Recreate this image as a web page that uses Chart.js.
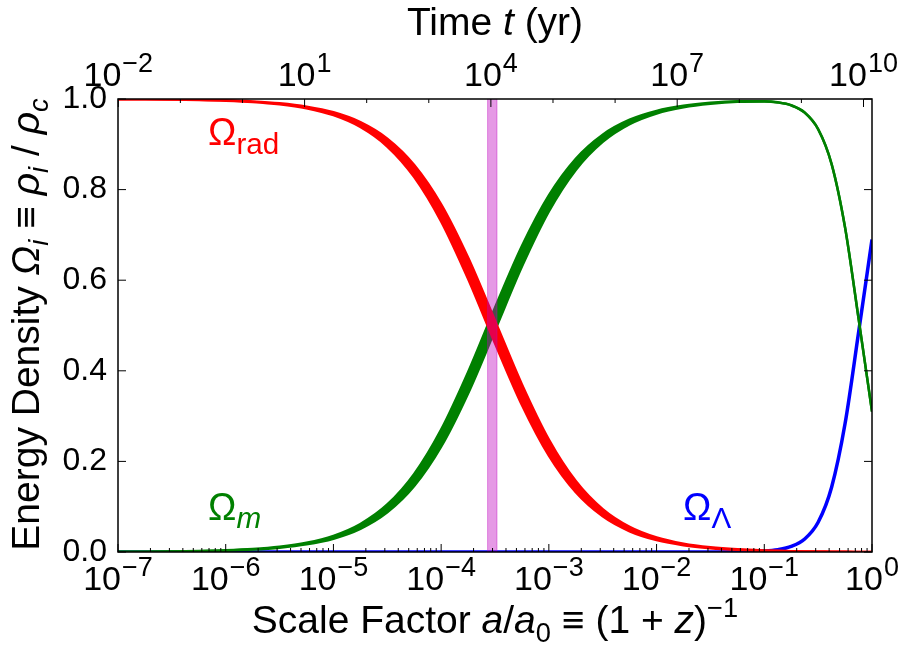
<!DOCTYPE html>
<html>
<head>
<meta charset="utf-8">
<script src="https://cdn.jsdelivr.net/npm/chart.js@4.4.1/dist/chart.umd.min.js"></script>
<style>
  html, body { margin: 0; padding: 0; background: #fff; }
  #wrap { width: 901px; height: 648px; }
</style>
</head>
<body>
<div id="wrap"><canvas id="densityChart" width="901" height="648"></canvas></div>
<script>
// scale factor grid, as powers of ten
const logA = [-7, -6.75, -6.5, -6.25, -6, -5.75, -5.5, -5.25, -5, -4.75, -4.5, -4.25, -4, -3.75, -3.5, -3.25,
  -3, -2.75, -2.5, -2.25, -2, -1.75, -1.5, -1.25, -1, -0.875, -0.75, -0.625, -0.5, -0.375, -0.25, -0.125, 0];

// radiation: lower / upper edge of the band
const radLow = [0.9996, 0.9993, 0.9988, 0.9979, 0.9963, 0.9935, 0.9884, 0.9796, 0.9643, 0.9382, 0.8952, 0.8276,
  0.7297, 0.6030, 0.4606, 0.3244, 0.2126, 0.1318, 0.0787, 0.0458, 0.0263, 0.0150, 0.0085, 0.0048, 0.0027,
  0.0020, 0.0015, 0.0011, 0.0008, 0.0005, 0.0003, 0.0002, 0.0001];
const radHigh = [0.9997, 0.9995, 0.9990, 0.9983, 0.9970, 0.9946, 0.9905, 0.9832, 0.9706, 0.9489, 0.9125, 0.8544,
  0.7675, 0.6499, 0.5106, 0.3698, 0.2481, 0.1565, 0.0945, 0.0554, 0.0319, 0.0182, 0.0103, 0.0058, 0.0033,
  0.0025, 0.0018, 0.0013, 0.0010, 0.0007, 0.0004, 0.0002, 0.0001];

// matter band
const matHigh = [0.0004, 0.0007, 0.0012, 0.0021, 0.0037, 0.0065, 0.0116, 0.0204, 0.0357, 0.0618, 0.1048, 0.1724,
  0.2703, 0.3970, 0.5394, 0.6756, 0.7874, 0.8682, 0.9213, 0.9542, 0.9737, 0.9850, 0.9915, 0.9948, 0.9951,
  0.9928, 0.9862, 0.9701, 0.9335, 0.8565, 0.7162, 0.5157, 0.3100];
const matLow = [0.0003, 0.0005, 0.0010, 0.0017, 0.0030, 0.0054, 0.0095, 0.0168, 0.0294, 0.0511, 0.0875, 0.1456,
  0.2325, 0.3501, 0.4894, 0.6302, 0.7519, 0.8435, 0.9055, 0.9446, 0.9681, 0.9818, 0.9896, 0.9938, 0.9945,
  0.9923, 0.9858, 0.9699, 0.9333, 0.8564, 0.7161, 0.5157, 0.3100];

// dark energy
const lambda = [0, 0, 0, 0, 0, 0, 0, 0, 0, 0, 0, 0, 0, 0, 0, 0, 0, 0, 0, 0, 0, 0, 0.0001, 0.0004, 0.0022,
  0.0052, 0.0123, 0.0288, 0.0657, 0.1430, 0.2835, 0.4841, 0.6899];

// matter-radiation equality window
const eqBand = [2.7e-4, 3.3e-4];

// axis ticks
const bottomDecades = [-7, -6, -5, -4, -3, -2, -1, 0];
const timeRange = [0.0099, 1.37e10];
const timeMajor = [-2, 1, 4, 7, 10];
const yTicks = [0, 0.2, 0.4, 0.6, 0.8, 1.0];

const RED = '#ff0000', GREEN = '#008000', BLUE = '#0000ff';
const FONT = '"Liberation Sans", Arial, sans-serif';

const scaleFactor = logA.map(e => Math.pow(10, e));
const pts = vals => scaleFactor.map((a, i) => ({x: a, y: vals[i]}));

// text runs with italic / sub / superscript parts
function drawRich(ctx, parts, x, y, size, align, small = 0.7) {
  let w = 0;
  const runs = parts.map(p => {
    const s = (p.sub || p.sup) ? size * small : size;
    const f = (p.it ? 'italic ' : '') + s + 'px ' + FONT;
    ctx.font = f;
    const r = {t: p.t, f, dx: w, dy: p.sub ? size * 0.22 : p.sup ? -size * 0.42 : 0};
    w += ctx.measureText(p.t).width;
    return r;
  });
  const x0 = align === 'center' ? x - w / 2 : align === 'right' ? x - w : x;
  ctx.textAlign = 'left';
  ctx.textBaseline = 'alphabetic';
  runs.forEach(r => { ctx.font = r.f; ctx.fillText(r.t, x0 + r.dx, y + r.dy); });
}

function powerLabel(ctx, exp, cx, baseline) {
  const e = exp < 0 ? '\u2212' + (-exp) : String(exp);
  ctx.font = '34px ' + FONT;
  const wb = ctx.measureText('10').width;
  ctx.font = '27px ' + FONT;
  const we = ctx.measureText(e).width;
  const x0 = cx - (wb + we + 1) / 2;
  ctx.textAlign = 'left';
  ctx.textBaseline = 'alphabetic';
  ctx.font = '34px ' + FONT;
  ctx.fillText('10', x0, baseline);
  ctx.font = '27px ' + FONT;
  ctx.fillText(e, x0 + wb + 1, baseline - 14);
}

const curveLabels = [
  {parts: [{t: '\u03A9'}, {t: 'rad', sub: true}], a: 6.85e-7, y: 0.898, color: RED},
  {parts: [{t: '\u03A9'}, {t: 'm', sub: true, it: true}], a: 6.85e-7, y: 0.0706, color: GREEN},
  {parts: [{t: '\u03A9'}, {t: '\u039B', sub: true}], a: 0.0176, y: 0.0706, color: BLUE}
];

const decor = {
  id: 'decor',
  afterDatasetsDraw(chart) {
    const {ctx, chartArea: ar, scales: {x}} = chart;
    const x1 = x.getPixelForValue(eqBand[0]);
    const x2 = x.getPixelForValue(eqBand[1]);
    ctx.save();
    ctx.fillStyle = 'rgba(191,0,191,0.4)';
    ctx.fillRect(x1, ar.top, x2 - x1, ar.bottom - ar.top);
    ctx.strokeStyle = 'rgba(191,0,191,0.4)';
    ctx.lineWidth = 1;
    ctx.beginPath();
    ctx.moveTo(x1, ar.top); ctx.lineTo(x1, ar.bottom);
    ctx.moveTo(x2, ar.top); ctx.lineTo(x2, ar.bottom);
    ctx.stroke();
    ctx.restore();
  },
  afterDraw(chart) {
    const {ctx, chartArea: ar, scales: {x, xTop, y}} = chart;
    ctx.save();
    ctx.strokeStyle = '#000';
    ctx.fillStyle = '#000';

    // ticks, pointing inward
    ctx.lineWidth = 1;
    ctx.beginPath();
    bottomDecades.forEach(d => {
      const px = x.getPixelForValue(Math.pow(10, d));
      ctx.moveTo(px, ar.bottom); ctx.lineTo(px, ar.bottom - 8);
      if (d < 0) {
        for (let k = 2; k <= 9; k++) {
          const mx = x.getPixelForValue(k * Math.pow(10, d));
          ctx.moveTo(mx, ar.bottom); ctx.lineTo(mx, ar.bottom - 4);
        }
      }
    });
    for (let d = -2; d <= 10; d++) {
      const px = xTop.getPixelForValue(Math.pow(10, d));
      const len = timeMajor.includes(d) ? 8 : 4;
      ctx.moveTo(px, ar.top); ctx.lineTo(px, ar.top + len);
    }
    yTicks.forEach(v => {
      const py = y.getPixelForValue(v);
      ctx.moveTo(ar.left, py); ctx.lineTo(ar.left + 8, py);
      ctx.moveTo(ar.right, py); ctx.lineTo(ar.right - 8, py);
    });
    ctx.stroke();

    ctx.lineWidth = 1.5;
    ctx.strokeRect(ar.left, ar.top, ar.right - ar.left, ar.bottom - ar.top);

    // tick labels
    ctx.font = '32px ' + FONT;
    ctx.textAlign = 'right';
    ctx.textBaseline = 'middle';
    yTicks.forEach(v => ctx.fillText(v.toFixed(1), ar.left - 11, y.getPixelForValue(v)));
    bottomDecades.forEach(d => powerLabel(ctx, d, x.getPixelForValue(Math.pow(10, d)), ar.bottom + 38));
    timeMajor.forEach(d => powerLabel(ctx, d, xTop.getPixelForValue(Math.pow(10, d)), ar.top - 13));

    // axis titles
    const midX = (ar.left + ar.right) / 2;
    const midY = (ar.top + ar.bottom) / 2;
    drawRich(ctx, [{t: 'Time '}, {t: 't', it: true}, {t: ' (yr)'}], midX, 35, 39, 'center');
    drawRich(ctx, [{t: 'Scale Factor '}, {t: 'a', it: true}, {t: '/'}, {t: 'a', it: true}, {t: '0', sub: true},
      {t: ' \u2261 (1 + '}, {t: 'z', it: true}, {t: ')'}, {t: '\u22121', sup: true}], midX, 633, 39, 'center');
    ctx.translate(39, midY - 1);
    ctx.rotate(-Math.PI / 2);
    drawRich(ctx, [{t: 'Energy Density '}, {t: '\u03A9', it: true}, {t: 'i', sub: true, it: true},
      {t: ' \u2261 '}, {t: '\u03C1', it: true}, {t: 'i', sub: true, it: true}, {t: ' / '},
      {t: '\u03C1', it: true}, {t: 'c', sub: true, it: true}], 0, 0, 39, 'center');
    ctx.restore();

    // curve names
    ctx.save();
    curveLabels.forEach(l => {
      ctx.fillStyle = l.color;
      drawRich(ctx, l.parts, x.getPixelForValue(l.a), y.getPixelForValue(l.y), 38, 'left', 0.78);
    });
    ctx.restore();
  }
};

const line = (vals, color, fill, width, order) => ({
  data: pts(vals),
  borderColor: color,
  backgroundColor: color,
  borderWidth: width,
  fill: fill,
  order: order,
  pointRadius: 0,
  cubicInterpolationMode: 'monotone',
  clip: 0
});

const hiddenAxis = {ticks: {display: false}, grid: {display: false}, border: {display: false}};

new Chart(document.getElementById('densityChart'), {
  type: 'line',
  data: {
    datasets: [
      line(radLow, RED, false, 2.5, 1),
      line(radHigh, RED, '-1', 2.5, 1),
      line(matLow, GREEN, false, 2.5, 2),
      line(matHigh, GREEN, '-1', 2.5, 2),
      line(lambda, BLUE, false, 3.5, 3)
    ]
  },
  options: {
    responsive: false,
    animation: false,
    layout: {padding: {left: 0, right: 29, top: 0, bottom: 0}},
    plugins: {legend: {display: false}, tooltip: {enabled: false}},
    scales: {
      x: {type: 'logarithmic', position: 'bottom', min: 1e-7, max: 1, ...hiddenAxis,
        afterFit(s) { s.height = 96; }},
      xTop: {type: 'logarithmic', position: 'top', min: timeRange[0], max: timeRange[1], ...hiddenAxis,
        afterFit(s) { s.height = 99; }},
      y: {type: 'linear', min: 0, max: 1, ...hiddenAxis,
        afterFit(s) { s.width = 118; }}
    }
  },
  plugins: [decor]
});
</script>
</body>
</html>
